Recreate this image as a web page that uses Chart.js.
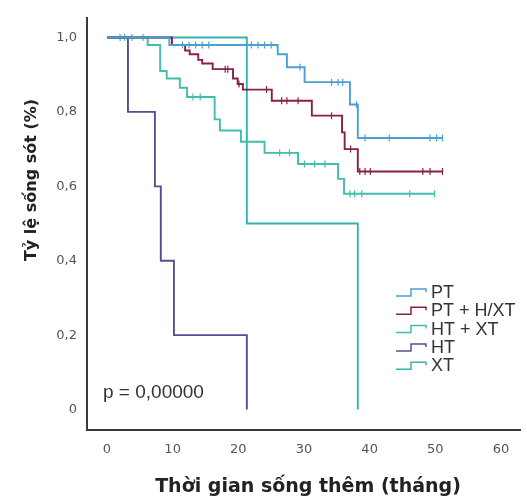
<!DOCTYPE html>
<html>
<head>
<meta charset="utf-8">
<script src="https://cdn.jsdelivr.net/npm/chart.js@4.4.1/dist/chart.umd.min.js"></script>
<style>
  html, body { margin: 0; padding: 0; background: #fff; }
  #wrap { width: 527px; height: 504px; }
</style>
</head>
<body>
<div id="wrap"><canvas id="km"></canvas></div>
<script>
// group names and colours
const groups = ['PT', 'PT + H/XT', 'HT + XT', 'HT', 'XT'];
const colors = ['#4a9fd6', '#8a1f48', '#3fbfa9', '#5a4b95', '#33b2ae'];

// Kaplan-Meier steps: event time (months) and survival after it
const ptTimes = [0, 9.5, 26.0, 27.4, 30.1, 37.0, 38.2, 51.1];
const ptSurv  = [1.0, 0.98, 0.955, 0.92, 0.88, 0.82, 0.73, 0.73];
const ptCens  = [11.5, 12.5, 13.5, 14.5, 15.5, 22, 23, 24, 25, 29.4, 34.2, 35.2, 35.9, 38.0, 39.3, 43.0, 49.2, 50.2, 51.1];

const phTimes = [0, 9.9, 11.9, 12.6, 13.9, 14.5, 16.1, 19.2, 19.9, 20.7, 25.1, 31.2, 35.8, 36.2, 38.2, 51.1];
const phSurv  = [1.0, 0.98, 0.965, 0.955, 0.94, 0.93, 0.915, 0.89, 0.875, 0.86, 0.83, 0.79, 0.745, 0.70, 0.64, 0.64];
const phCens  = [18.0, 18.4, 20.1, 24.3, 26.6, 27.4, 29.1, 34.2, 37.1, 38.5, 39.3, 40.1, 48.1, 49.2, 51.1];

const hxTimes = [0, 6.2, 8.1, 9.1, 11.1, 12.2, 16.4, 17.2, 20.4, 24.0, 29.1, 35.2, 36.1, 49.9];
const hxSurv  = [1.0, 0.98, 0.91, 0.89, 0.865, 0.84, 0.78, 0.75, 0.72, 0.69, 0.66, 0.62, 0.58, 0.58];
const hxCens  = [2.0, 2.7, 3.8, 5.5, 13.1, 14.2, 26.3, 27.8, 30.1, 31.6, 33.2, 37.0, 37.7, 38.8, 46.1, 49.9];

const htTimes = [0, 3.2, 7.3, 8.2, 10.2, 21.3];
const htSurv  = [1.0, 0.8, 0.6, 0.4, 0.2, 0];
const htCens  = [];

const xtTimes = [0, 21.3, 38.2];
const xtSurv  = [1.0, 0.5, 0];
const xtCens  = [];

// axis ticks
const xTicks = [0, 10, 20, 30, 40, 50, 60];
const yTicks = [0, 0.2, 0.4, 0.6, 0.8, 1.0];
const pText = 'p = 0,00000';

const allTimes = [ptTimes, phTimes, hxTimes, htTimes, xtTimes];
const allSurv = [ptSurv, phSurv, hxSurv, htSurv, xtSurv];
const allCens = [ptCens, phCens, hxCens, htCens, xtCens];

// survival value at time t (step function)
function survAt(times, surv, t) {
    let v = surv[0];
    for (let i = 0; i < times.length; i++) {
        if (times[i] <= t) v = surv[i];
    }
    return v;
}

const datasets = [];
groups.forEach((g, i) => {
    datasets.push({
        label: g,
        data: allTimes[i].map((t, k) => ({ x: t, y: allSurv[i][k] })),
        borderColor: colors[i],
        borderWidth: 1.9,
        stepped: 'before',
        pointRadius: 0,
        fill: false
    });
    if (allCens[i].length) {
        datasets.push({
            label: g + ' censored',
            data: allCens[i].map(t => ({ x: t, y: survAt(allTimes[i], allSurv[i], t) })),
            showLine: false,
            pointStyle: 'line',
            rotation: 90,
            pointRadius: 3.5,
            pointBorderWidth: 1.2,
            borderColor: colors[i],
            backgroundColor: colors[i]
        });
    }
});

// legend, axis titles and p value drawn on the canvas
const extras = {
    id: 'extras',
    afterDatasetsDraw(chart) {
        const ctx = chart.ctx;
        ctx.save();
        // legend with step icons
        ctx.font = '18px "Liberation Sans", Arial, sans-serif';
        ctx.textBaseline = 'middle';
        groups.forEach((g, i) => {
            const y = 292 + i * 18.3;
            const x = 396;
            ctx.strokeStyle = colors[i];
            ctx.lineWidth = 1.5;
            ctx.beginPath();
            ctx.moveTo(x, y + 4);
            ctx.lineTo(x + 15, y + 4);
            ctx.lineTo(x + 15, y - 3);
            ctx.lineTo(x + 30, y - 3);
            ctx.lineTo(x + 30, y);
            ctx.stroke();
            ctx.fillStyle = '#333';
            ctx.fillText(g, x + 35, y + 1);
        });
        // p value
        ctx.font = '19px "Liberation Sans", Arial, sans-serif';
        ctx.fillStyle = '#333';
        ctx.fillText(pText, 103, 393);
        // x title
        ctx.textAlign = 'center';
        ctx.fillStyle = '#222';
        ctx.font = 'bold 19px "DejaVu Sans", sans-serif';
        ctx.fillText('Thời gian sống thêm (tháng)', 308, 487);
        // y title
        ctx.translate(32, 180);
        ctx.rotate(-Math.PI / 2);
        ctx.font = 'bold 16px "DejaVu Sans", sans-serif';
        ctx.fillText('Tỷ lệ sống sót (%)', 0, 0);
        ctx.restore();
    }
};

new Chart(document.getElementById('km'), {
    type: 'line',
    data: { datasets: datasets },
    options: {
        responsive: true,
        maintainAspectRatio: false,
        animation: false,
        layout: { padding: { top: 10, right: 7, left: 0, bottom: 0 } },
        plugins: { legend: { display: false }, tooltip: { enabled: false } },
        scales: {
            x: {
                type: 'linear',
                min: -3.04,
                max: 62.9,
                afterBuildTicks: s => { s.ticks = xTicks.map(v => ({ value: v })); },
                afterFit: s => { s.height = 74; },
                grid: { display: false, drawTicks: false },
                border: { display: true, color: '#3a3a3a', width: 2 },
                ticks: { padding: 12, color: '#555', font: { size: 13, family: '"DejaVu Sans", sans-serif' } }
            },
            y: {
                min: -0.055,
                max: 1.053,
                afterBuildTicks: s => { s.ticks = yTicks.map(v => ({ value: v })); },
                afterFit: s => { s.width = 87; },
                grid: { display: false, drawTicks: false },
                border: { display: true, color: '#3a3a3a', width: 2 },
                ticks: {
                    padding: 10,
                    color: '#555',
                    font: { size: 13, family: '"DejaVu Sans", sans-serif' },
                    callback: v => v === 0 ? '0' : v.toFixed(1).replace('.', ',')
                }
            }
        }
    },
    plugins: [extras]
});
</script>
</body>
</html>
